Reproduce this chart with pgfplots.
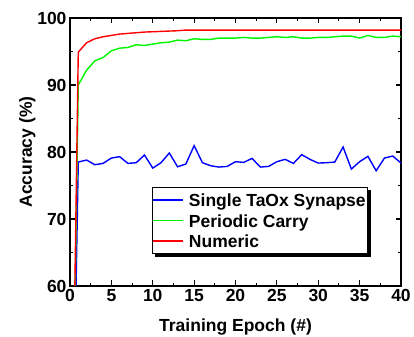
\documentclass[border=0pt]{standalone}
\usepackage{fontspec}
\setmainfont{Liberation Sans Bold}
\usepackage{pgfplots}
\pgfplotsset{compat=1.18}
\usetikzlibrary{backgrounds}
\definecolor{cblue}{RGB}{0,0,255}
\definecolor{cgreen}{RGB}{0,245,0}
\definecolor{cred}{RGB}{255,0,0}
\newcommand{\ls}{\rule[-3bp]{0pt}{18bp}}
\begin{document}
\begin{tikzpicture}
\path[use as bounding box] (-70bp,-51bp) rectangle (344bp,286bp);
\begin{axis}[
  at={(0,0)}, anchor=south west,
  scale only axis, width=331bp, height=268bp,
  xmin=0, xmax=40, ymin=60, ymax=100,
  xtick={0,5,...,40}, ytick={60,70,...,100},
  minor x tick num=1, minor y tick num=1,
  tick align=inside, tick pos=both,
  major tick length=5.5bp, minor tick length=3bp,
  axis line style={line width=1.4bp},
  every tick/.style={line width=1.1bp, black},
  /pgf/number format/assume math mode=true,
  tick label style={font=\fontsize{17.5bp}{19bp}\selectfont},
  label style={font=\fontsize{17.5bp}{19bp}\selectfont},
  xlabel={Training Epoch (\#)}, ylabel={Accuracy (\%)},
  xlabel style={yshift=-10bp},
  ylabel style={yshift=-5bp},
  legend style={at={(0.248,0.369)}, anchor=north west, name=leg,
    font=\fontsize{17.5bp}{19bp}\selectfont,
    draw=black, line width=1bp, fill=white,
    inner xsep=0bp, inner ysep=2bp, row sep=0bp},
  legend cell align=left,
  legend image code/.code={\path (0bp,0bp) (33bp,0bp); \draw[#1, line width=1.4bp] (0bp,0bp) -- (30bp,0bp);},
  clip=true,
]
\addplot[cblue, line width=1.4bp] coordinates {
(0,10) (1,78.5) (2,78.8) (3,78.1) (4,78.3) (5,79.1) (6,79.3) (7,78.3) (8,78.4) (9,79.55) (10,77.6)
(11,78.4) (12,79.85) (13,77.8) (14,78.2) (15,80.95) (16,78.4) (17,77.95) (18,77.75) (19,77.85) (20,78.55)
(21,78.45) (22,79.05) (23,77.75) (24,77.85) (25,78.55) (26,78.9) (27,78.3) (28,79.6) (29,78.9) (30,78.35)
(31,78.4) (32,78.5) (33,80.75) (34,77.45) (35,78.55) (36,79.35) (37,77.2) (38,79.1) (39,79.4) (40,78.35)
};
\addlegendentry{\ls Single TaOx Synapse}
\addplot[cgreen, line width=1.4bp] coordinates {
(0,10) (1,90) (2,92.2) (3,93.6) (4,94.1) (5,95.1) (6,95.5) (7,95.6) (8,96.0) (9,95.9) (10,96.1)
(11,96.3) (12,96.4) (13,96.7) (14,96.6) (15,96.9) (16,96.8) (17,96.8) (18,97.0) (19,97.0) (20,97.0)
(21,97.1) (22,97.0) (23,97.0) (24,97.1) (25,97.2) (26,97.1) (27,97.2) (28,97.0) (29,97.0) (30,97.1)
(31,97.1) (32,97.2) (33,97.3) (34,97.3) (35,97.0) (36,97.4) (37,97.1) (38,97.1) (39,97.3) (40,97.2)
};
\addlegendentry{\ls Periodic Carry}
\addplot[cred, line width=1.4bp] coordinates {
(0,10) (1,94.9) (2,96.3) (3,96.9) (4,97.2) (5,97.4) (6,97.6) (7,97.7) (8,97.8) (9,97.9) (10,97.95)
(11,98.0) (12,98.05) (13,98.1) (14,98.2) (15,98.2) (16,98.2) (17,98.2) (18,98.2) (19,98.2) (20,98.2)
(21,98.2) (22,98.2) (23,98.2) (24,98.2) (25,98.2) (26,98.2) (27,98.2) (28,98.2) (29,98.2) (30,98.2)
(31,98.2) (32,98.2) (33,98.2) (34,98.2) (35,98.2) (36,98.2) (37,98.2) (38,98.2) (39,98.2) (40,98.2)
};
\addlegendentry{\ls Numeric}
\end{axis}
\begin{scope}[on background layer]
\fill[black] ([shift={(3bp,-3bp)}]leg.south west) rectangle ([shift={(3bp,-3bp)}]leg.north east);
\end{scope}
\end{tikzpicture}
\end{document}
